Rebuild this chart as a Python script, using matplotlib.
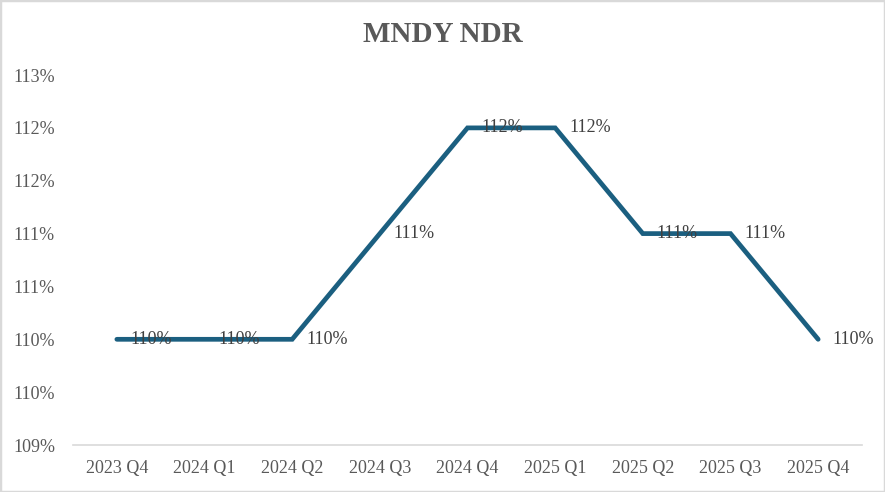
import matplotlib.pyplot as plt
from matplotlib.ticker import FuncFormatter

quarters = ["2023 Q4", "2024 Q1", "2024 Q2", "2024 Q3", "2024 Q4",
            "2025 Q1", "2025 Q2", "2025 Q3", "2025 Q4"]
ndr = [110, 110, 110, 111, 112, 112, 111, 111, 110]
yticks = [109.0, 109.5, 110.0, 110.5, 111.0, 111.5, 112.0, 112.5]

plt.rcParams['font.family'] = ['Liberation Serif', 'DejaVu Serif']
txt = "#595959"
line_col = "#1B5F80"

fig = plt.figure(figsize=(8.85, 4.92), dpi=100)
ax = fig.add_axes([0.0825, 0.0955, 0.8915, 0.752])

x = list(range(len(quarters)))
ax.plot(x, ndr, color=line_col, linewidth=3.4, solid_capstyle="round",
        solid_joinstyle="miter", zorder=2)

for xi, v in zip(x, ndr):
    ax.annotate(f"{v:.0f}%", (xi, v), xytext=(14, 0), textcoords="offset pixels",
                ha="left", va="center", fontsize=13, color="#404040", zorder=3)

ax.set_xlim(-0.5, len(quarters) - 0.5)
ax.set_ylim(109.0, 112.5)
ax.set_yticks(yticks)
ax.yaxis.set_major_formatter(FuncFormatter(lambda v, p: f"{int(v + 0.5)}%"))
ax.set_xticks(x)
ax.set_xticklabels(quarters)
ax.tick_params(axis="both", length=0, labelsize=13, colors=txt)
ax.tick_params(axis="x", pad=11)
ax.tick_params(axis="y", pad=13)

for s in ["top", "right", "left"]:
    ax.spines[s].set_visible(False)
ax.spines["bottom"].set_color("#d9d9d9")
ax.spines["bottom"].set_linewidth(1.2)

fig.text(0.5, 0.93, "MNDY NDR", ha="center", va="center",
         fontsize=21, fontweight="bold", color=txt)

fig.patches.append(plt.Rectangle((0, 0), 1, 1, transform=fig.transFigure,
                                 fill=False, edgecolor="#d9d9d9", linewidth=2.5))

plt.savefig("out.png", dpi=100)
